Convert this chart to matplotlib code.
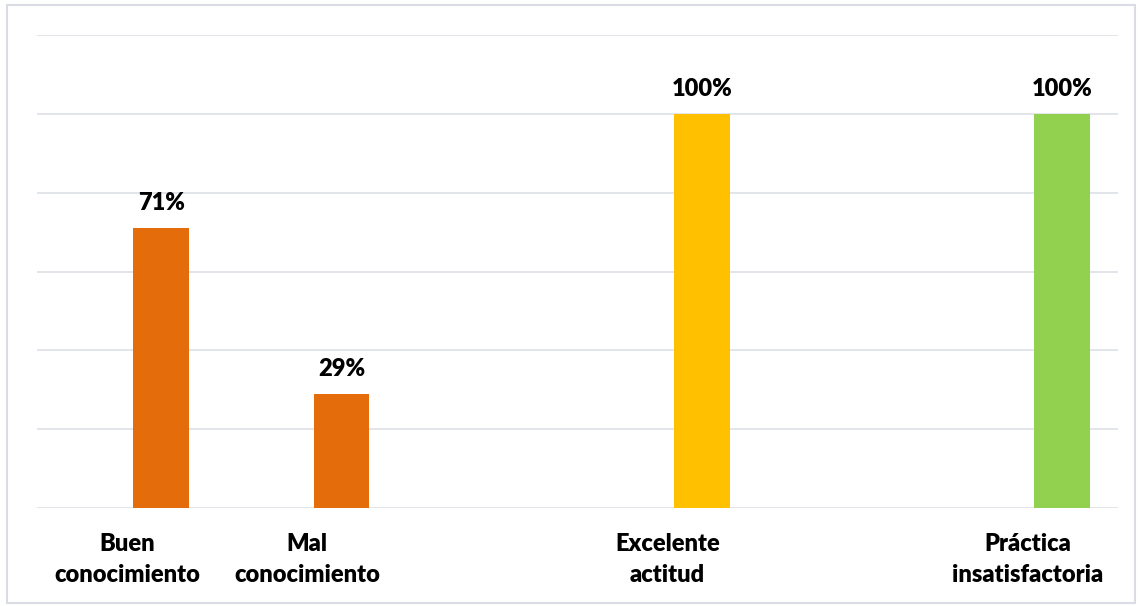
import matplotlib
matplotlib.use("Agg")
import matplotlib.pyplot as plt
from matplotlib.patches import Rectangle

categories = ["Buen\nconocimiento", "Mal\nconocimiento", "Excelente\nactitud", "Práctica\ninsatisfactoria"]
slots = [0, 1, 3, 5]
values = [71, 29, 100, 100]
value_labels = ["71%", "29%", "100%", "100%"]
colors = ["#E46C0A", "#E46C0A", "#FFC000", "#92D050"]

plt.rcParams['font.family'] = ['Lato', 'DejaVu Sans']

fig = plt.figure(figsize=(11.38, 6.06), dpi=100)
ax = fig.add_axes([37/1138, (606-508)/606, (1118-37)/1138, (508-35)/606])

offset = 0.19
bx = [s + offset for s in slots]
bars = ax.bar(bx, values, width=0.31, color=colors, zorder=3)
for x, v, lab in zip(bx, values, value_labels):
    ax.annotate(lab, (x, v), xytext=(0, 13), textcoords="offset points",
                ha="center", va="baseline", fontsize=17, fontweight="heavy", color="black")

ax.set_xlim(-0.5, 5.5)
ax.set_ylim(0, 120)
ax.set_yticks(range(0, 121, 20))
ax.yaxis.grid(True, color="#DFE3E8", linewidth=1.3, zorder=0)
ax.tick_params(axis="y", length=0, labelleft=False)
ax.set_xticks(slots)
ax.set_xticklabels(categories, fontsize=17, fontweight="heavy", linespacing=1.5)
ax.tick_params(axis="x", length=0, pad=18)
for s in ax.spines.values():
    s.set_visible(False)

fig.patches.append(Rectangle((7/1138, 3/606), 1128/1138, 598/606, transform=fig.transFigure,
                             fill=False, edgecolor="#D9DDE3", linewidth=1.5))

fig.savefig("out.png", dpi=100)
